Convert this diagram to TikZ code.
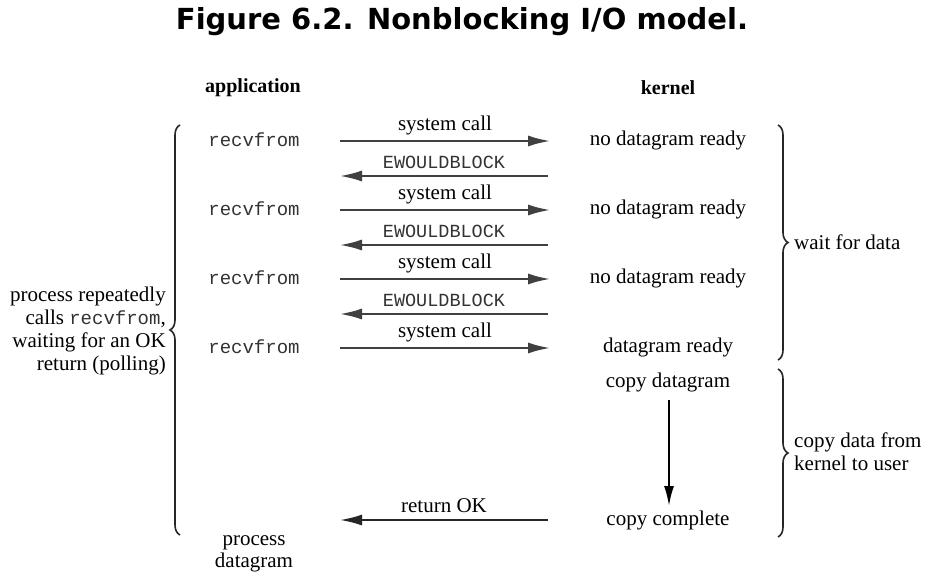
\documentclass[tikz,border=0pt]{standalone}
\usepackage{fontspec}
\setmainfont{Liberation Serif}
\setmonofont{Liberation Mono}
\newfontfamily\titlefont{DejaVu Sans}
\usetikzlibrary{arrows.meta,decorations.pathreplacing}
\tikzset{
  lbl/.style={font=\fontsize{21}{23}\selectfont, inner sep=0pt},
  mono/.style={font=\fontsize{19}{21}\ttfamily, text=black!80, inner sep=0pt},
  hdr/.style={font=\fontsize{20}{22}\selectfont\bfseries, inner sep=0pt},
  msg/.style={line width=2pt, draw=black!75, -{Latex[length=22pt,width=11pt]}},
  brc/.style={decorate, decoration={brace, amplitude=10pt}, line width=1.6pt, draw=black!85},
}
\begin{document}
\begin{tikzpicture}[x=1pt,y=-1pt]
\useasboundingbox (0,0) rectangle (933,585);
\fill[white] (0,0) rectangle (933,585);
\node[inner sep=0pt, font=\titlefont\bfseries\fontsize{29}{32}\selectfont] (title) at (462,22) {Figure 6.2. Nonblocking I/O model.};
\node[hdr] (app) at (253,88) {application};
\node[hdr] (ker) at (668,88) {kernel};
% application side
\node[mono] (r1) at (254,140) {recvfrom};
\node[mono] (r2) at (254,209) {recvfrom};
\node[mono] (r3) at (254,278) {recvfrom};
\node[mono] (r4) at (254,347) {recvfrom};
% kernel side
\node[lbl] (k1) at (668,140) {no datagram ready};
\node[lbl] (k2) at (668,209) {no datagram ready};
\node[lbl] (k3) at (668,278) {no datagram ready};
\node[lbl] (k4) at (668,347) {datagram ready};
\node[lbl] (k5) at (668,382) {copy datagram};
\node[lbl] (k6) at (668,520) {copy complete};
% arrow endpoints
\foreach \i/\y in {1/141,2/210,3/279,4/348}{
  \coordinate (sa\i) at (340,\y);
  \coordinate (sb\i) at (550,\y);
}
\foreach \i/\y in {1/176,2/245,3/314,5/520}{
  \coordinate (ea\i) at (548,\y);
  \coordinate (eb\i) at (340,\y);
}
\foreach \i in {1,2,3,4}{
  \draw[msg] (sa\i) -- node[lbl, above=5pt] {system call} (sb\i);
}
\foreach \i in {1,2,3}{
  \draw[msg] (ea\i) -- node[mono, font=\fontsize{18.5}{20}\ttfamily, above=6pt] {EWOULDBLOCK} (eb\i);
}
\draw[msg, draw=black!85] (ea5) -- node[lbl, above=6pt] {return OK} (eb5);
% copy arrow
\coordinate (ca) at (669,400);
\coordinate (cb) at (669,506);
\draw[line width=2pt, -{Latex[length=20pt,width=10pt]}] (ca) -- (cb);
% left brace
\coordinate (lb1) at (180,535);
\coordinate (lb2) at (180,125);
\draw[brc] (lb1) -- (lb2);
\node[lbl, align=right, anchor=east, font=\fontsize{21}{23}\selectfont] (left) at (166,331)
  {process repeatedly\\calls {\ttfamily\fontsize{19}{23}\selectfont\color{black!80}recvfrom},\\waiting for an OK\\return (polling)};
\node[lbl, align=center, font=\fontsize{21}{22}\selectfont] (pd) at (254,554) {process\\datagram};
% right braces
\coordinate (rb1) at (778,125);
\coordinate (rb2) at (778,360);
\draw[brc] (rb1) -- (rb2);
\node[lbl, anchor=west] (wfd) at (794,242) {wait for data};
\coordinate (rb3) at (778,369);
\coordinate (rb4) at (778,537);
\draw[brc] (rb3) -- (rb4);
\node[lbl, anchor=west, align=left, font=\fontsize{21}{23}\selectfont] (cdf) at (794,452) {copy data from\\kernel to user};
\end{tikzpicture}
\end{document}
